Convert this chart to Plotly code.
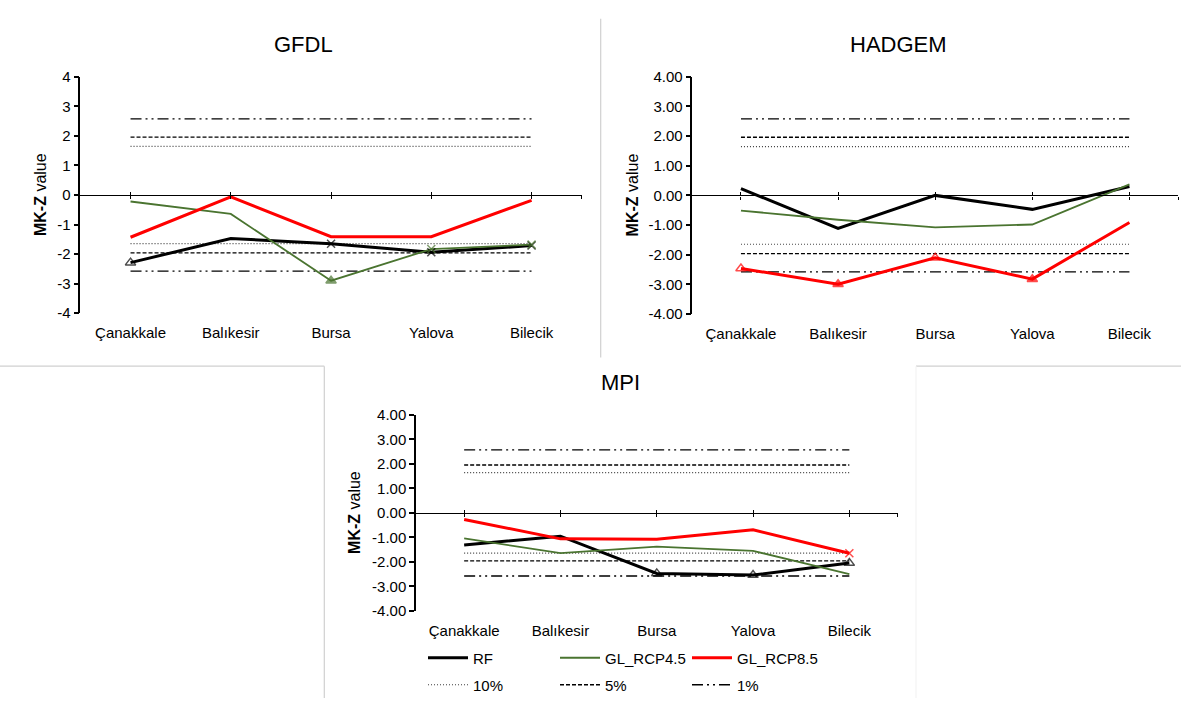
import plotly.graph_objects as go

# ---------------- data ----------------
categories = ["Çanakkale", "Balıkesir", "Bursa", "Yalova", "Bilecik"]
models = ["GFDL", "HADGEM", "MPI"]
series_names = ["RF", "GL_RCP4.5", "GL_RCP8.5"]

gfdl_rf = [-2.29, -1.47, -1.65, -1.94, -1.71]
gfdl_rcp45 = [-0.22, -0.64, -2.90, -1.83, -1.68]
gfdl_rcp85 = [-1.43, -0.06, -1.41, -1.41, -0.18]

hadgem_rf = [0.23, -1.11, 0.00, -0.47, 0.30]
hadgem_rcp45 = [-0.51, -0.82, -1.08, -0.98, 0.37]
hadgem_rcp85 = [-2.46, -2.99, -2.10, -2.82, -0.91]

mpi_rf = [-1.31, -0.95, -2.47, -2.54, -2.05]
mpi_rcp45 = [-1.04, -1.64, -1.38, -1.55, -2.50]
mpi_rcp85 = [-0.27, -1.06, -1.08, -0.69, -1.65]

# significance marks shown on the points ("" = none)
gfdl_rf_sig = ["5%", "", "10%", "10%", "10%"]
gfdl_rcp45_sig = ["", "", "1%", "10%", "10%"]
gfdl_rcp85_sig = ["", "", "", "", ""]
hadgem_rf_sig = ["", "", "", "", ""]
hadgem_rcp45_sig = ["", "", "", "", ""]
hadgem_rcp85_sig = ["5%", "1%", "5%", "1%", ""]
mpi_rf_sig = ["", "", "5%", "5%", "5%"]
mpi_rcp45_sig = ["", "", "", "", ""]
mpi_rcp85_sig = ["", "", "", "", "10%"]

threshold_names = ["10%", "5%", "1%"]
threshold_values = [1.645, 1.96, 2.576]

y_tickvals = [4, 3, 2, 1, 0, -1, -2, -3, -4]
gfdl_ticktext = ["4", "3", "2", "1", "0", "-1", "-2", "-3", "-4"]
other_ticktext = ["4.00", "3.00", "2.00", "1.00", "0.00", "-1.00", "-2.00", "-3.00", "-4.00"]

panel_data = {
    "GFDL": ([gfdl_rf, gfdl_rcp45, gfdl_rcp85], [gfdl_rf_sig, gfdl_rcp45_sig, gfdl_rcp85_sig], gfdl_ticktext),
    "HADGEM": ([hadgem_rf, hadgem_rcp45, hadgem_rcp85], [hadgem_rf_sig, hadgem_rcp45_sig, hadgem_rcp85_sig], other_ticktext),
    "MPI": ([mpi_rf, mpi_rcp45, mpi_rcp85], [mpi_rf_sig, mpi_rcp45_sig, mpi_rcp85_sig], other_ticktext),
}

# ---------------- layout geometry (pixels) ----------------
W, H = 1181, 706
geom = {
    # x0, x1, ytop(=4), ybottom(=-4), title center x, title y, ytitle x
    "GFDL": (80.4, 581.7, 69.5, 311.7, 304, 36, 40),
    "HADGEM": (692.4, 1178.0, 69.3, 312.7, 898, 36, 632),
    "MPI": (416.0, 897.5, 416.0, 616.7, 620, 383, 355),
}

def px(x):
    return x / W

def py(y):
    return 1 - y / H

series_colors = ["#000000", "#4A7430", "#FF0000"]
series_widths = [3, 1.8, 3]
thr_dash = ["1px,2px", "4px,2px", "11px,4px,2px,4px,2px,4px"]
thr_width = [1.2, 1.4, 1.4]
thr_color = ["#404040", "#000000", "#000000"]

sym_map = {"": "circle", "10%": "x-thin-open", "5%": "triangle-up-open", "1%": "triangle-up"}
size_map = {"": 0, "10%": 8, "5%": 9, "1%": 9}

fig = go.Figure()
layout = dict(width=W, height=H, margin=dict(l=0, r=0, t=0, b=0),
              plot_bgcolor="white", paper_bgcolor="white",
              font=dict(family="Liberation Sans, Arial, sans-serif", size=15, color="#000000"),
              annotations=[], shapes=[])

xs = list(range(len(categories)))
for pi, model in enumerate(models):
    vals, sigs, ticktext = panel_data[model]
    x0, x1, yt, yb, tcx, tcy, ytx = geom[model]
    n = pi * 3
    xa_main = n + 1
    xa_up = n + 2
    xa_dn = n + 3
    ya = pi + 1
    xname = lambda k: "x" if k == 1 else f"x{k}"
    yname = "y" if ya == 1 else f"y{ya}"
    xkey = lambda k: "xaxis" if k == 1 else f"xaxis{k}"
    ykey = "yaxis" if ya == 1 else f"yaxis{ya}"
    dom_x = [px(x0), px(x1)]
    dom_y = [py(yb), py(yt)]
    zero_pos = (dom_y[0] + dom_y[1]) / 2

    layout[xkey(xa_main)] = dict(domain=dom_x, anchor=yname, range=[-0.5, 4.5],
                                 tickvals=xs, ticktext=categories, ticks="outside",
                                 ticklen=6, tickcolor="rgba(0,0,0,0)", showline=False,
                                 showgrid=False, zeroline=False, tickfont=dict(size=15))
    for k, side in ((xa_up, "outside"), (xa_dn, "inside")):
        layout[xkey(k)] = dict(domain=dom_x, anchor="free", position=zero_pos,
                               overlaying=xname(xa_main), matches=xname(xa_main),
                               range=[-0.5, 4.5], tickvals=xs + [4.5], showticklabels=False,
                               ticks=side, ticklen=3, tickwidth=1.3, tickcolor="#000000",
                               showline=True, linecolor="#000000", linewidth=1.3,
                               showgrid=False, zeroline=False)
        fig.add_trace(go.Scatter(x=[None], y=[None], xaxis=xname(k), yaxis=yname,
                                 showlegend=False, hoverinfo="skip"))
    layout[ykey] = dict(domain=dom_y, anchor=xname(xa_main), range=[-4, 4],
                        tickvals=y_tickvals, ticktext=ticktext, ticks="outside",
                        ticklen=5, tickwidth=1.5, tickcolor="#000000",
                        showline=True, linecolor="#000000", linewidth=1.5,
                        showgrid=False, zeroline=False, tickfont=dict(size=15))

    # thresholds
    for ti, (tname, tv) in enumerate(zip(threshold_names, threshold_values)):
        for sgn in (1, -1):
            fig.add_trace(go.Scatter(
                x=xs, y=[sgn * tv] * len(xs), mode="lines", name=tname,
                line=dict(color=thr_color[ti], width=thr_width[ti], dash=thr_dash[ti]),
                xaxis=xname(xa_main), yaxis=yname, legend="legend2",
                showlegend=(pi == 2 and sgn == 1), hoverinfo="skip"))
    # series lines
    for si, sname in enumerate(series_names):
        fig.add_trace(go.Scatter(
            x=xs, y=vals[si], mode="lines", name=sname,
            line=dict(color=series_colors[si], width=series_widths[si]),
            xaxis=xname(xa_main), yaxis=yname, legend="legend",
            showlegend=(pi == 2), hoverinfo="skip"))
    # significance markers
    for si, sname in enumerate(series_names):
        fig.add_trace(go.Scatter(
            x=xs, y=vals[si], mode="markers", name=sname,
            marker=dict(symbol=[sym_map[s] for s in sigs[si]],
                        size=[size_map[s] for s in sigs[si]],
                        color=series_colors[si],
                        line=dict(color=series_colors[si], width=1.5)),
            xaxis=xname(xa_main), yaxis=yname,
            showlegend=False, hoverinfo="skip"))

    layout["annotations"].append(dict(text=model, x=px(tcx), y=py(tcy), xref="paper", yref="paper",
                                      xanchor="center", yanchor="middle", showarrow=False,
                                      font=dict(size=22)))
    layout["annotations"].append(dict(text="<b>MK-Z</b> value", x=px(ytx), y=py((yt + yb) / 2),
                                      xref="paper", yref="paper", textangle=-90,
                                      xanchor="center", yanchor="middle", showarrow=False,
                                      font=dict(size=16)))

# separator lines
sep = "#D0D0D0"
for (ax0, ay0, ax1, ay1, col) in [(600.7, 10, 600.7, 357, sep), (0, 366, 324.3, 366, sep),
                                  (324.3, 366, 324.3, 706, sep), (916, 366, 1181, 366, sep),
                                  (916, 366, 916, 706, "#F4F4F4")]:
    layout["shapes"].append(dict(type="line", xref="paper", yref="paper",
                                 x0=px(ax0), y0=py(ay0), x1=px(ax1), y1=py(ay1),
                                 line=dict(color=col, width=1.2)))

layout["legend"] = dict(orientation="h", x=px(423), y=py(665), xanchor="left", yanchor="middle",
                        entrywidth=77, entrywidthmode="pixels", itemwidth=40,
                        font=dict(size=15), bgcolor="rgba(0,0,0,0)", tracegroupgap=0)
layout["legend2"] = dict(orientation="h", x=px(423), y=py(692.7), xanchor="left", yanchor="middle",
                         entrywidth=77, entrywidthmode="pixels", itemwidth=40,
                         font=dict(size=15), bgcolor="rgba(0,0,0,0)", tracegroupgap=0)

fig.update_layout(**layout)
fig.write_html("out.html", config={"displayModeBar": False},
               post_script="document.body.style.margin='0';")
